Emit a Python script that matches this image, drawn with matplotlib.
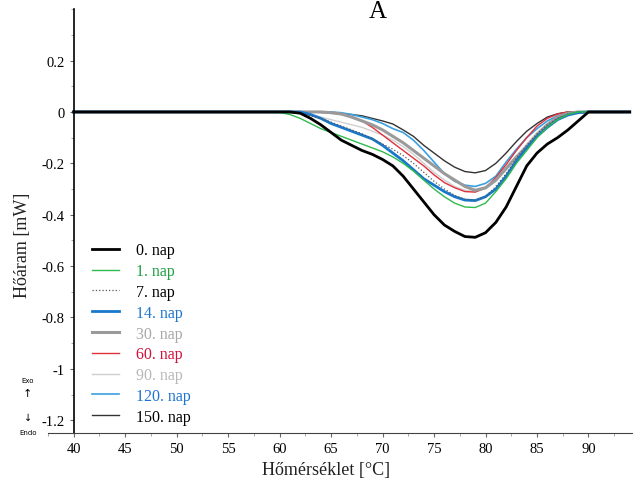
import numpy as np
import matplotlib
matplotlib.use('Agg')
import matplotlib.pyplot as plt
from matplotlib.ticker import MultipleLocator, FormatStrFormatter

plt.rcParams['font.family'] = ['Liberation Serif', 'DejaVu Serif']

# temperature grid (°C)
temp = [40, 59, 60, 61, 62, 63, 64, 65, 66, 67, 68, 69, 70, 71, 72, 73, 74, 75,
        76, 77, 78, 79, 80, 81, 82, 83, 84, 85, 86, 87, 88, 89, 90, 94]

# heat flow (mW) per storage day
nap0 = [0, 0, 0, 0, -0.005, -0.025, -0.05, -0.08, -0.11, -0.13, -0.15, -0.165, -0.185, -0.21,
        -0.25, -0.30, -0.35, -0.40, -0.44, -0.465, -0.485, -0.488, -0.47, -0.43, -0.37, -0.29,
        -0.21, -0.16, -0.125, -0.10, -0.07, -0.035, 0, 0]
nap1 = [0, 0, -0.002, -0.01, -0.025, -0.045, -0.065, -0.08, -0.095, -0.11, -0.125, -0.14,
        -0.155, -0.175, -0.20, -0.23, -0.265, -0.30, -0.33, -0.355, -0.37, -0.372, -0.355,
        -0.31, -0.26, -0.20, -0.15, -0.10, -0.06, -0.03, -0.01, 0, 0, 0]
nap7 = [0, 0, 0, 0, -0.005, -0.015, -0.025, -0.04, -0.055, -0.07, -0.085, -0.105, -0.125,
        -0.145, -0.17, -0.20, -0.235, -0.27, -0.30, -0.325, -0.34, -0.343, -0.33, -0.29,
        -0.24, -0.18, -0.13, -0.085, -0.05, -0.025, -0.008, 0, 0, 0]
nap14 = [0, 0, 0, 0, 0, -0.01, -0.025, -0.045, -0.06, -0.075, -0.09, -0.105, -0.13, -0.16,
         -0.19, -0.225, -0.26, -0.285, -0.31, -0.33, -0.343, -0.345, -0.33, -0.30, -0.25,
         -0.19, -0.14, -0.095, -0.06, -0.03, -0.012, -0.003, 0, 0]
nap30 = [0, 0, 0, 0, 0, 0, 0, -0.003, -0.008, -0.02, -0.035, -0.05, -0.07, -0.095, -0.12,
         -0.15, -0.18, -0.21, -0.24, -0.265, -0.29, -0.305, -0.295, -0.265, -0.22, -0.175,
         -0.135, -0.09, -0.05, -0.02, -0.005, 0, 0, 0]
nap60 = [0, 0, 0, 0, 0, 0, 0, -0.003, -0.01, -0.02, -0.035, -0.06, -0.09, -0.12, -0.15,
         -0.18, -0.21, -0.245, -0.275, -0.295, -0.31, -0.312, -0.295, -0.255, -0.205, -0.15,
         -0.10, -0.055, -0.025, -0.008, 0, 0, 0, 0]
nap90 = [0, 0, 0, 0, -0.005, -0.012, -0.02, -0.03, -0.04, -0.05, -0.06, -0.075, -0.09, -0.11,
         -0.135, -0.165, -0.20, -0.235, -0.265, -0.29, -0.305, -0.31, -0.30, -0.27, -0.225,
         -0.175, -0.125, -0.08, -0.045, -0.02, -0.005, 0, 0, 0]
nap120 = [0, 0, 0, 0, 0, 0, 0, 0, -0.003, -0.01, -0.02, -0.03, -0.045, -0.065, -0.08, -0.11,
          -0.15, -0.195, -0.24, -0.27, -0.285, -0.29, -0.278, -0.25, -0.195, -0.145, -0.10,
          -0.065, -0.035, -0.015, -0.004, 0, 0, 0]
nap150 = [0, 0, 0, 0, 0, 0, -0.002, -0.004, -0.007, -0.01, -0.015, -0.025, -0.035, -0.047,
          -0.07, -0.095, -0.13, -0.16, -0.19, -0.215, -0.232, -0.237, -0.228, -0.20, -0.16,
          -0.115, -0.075, -0.045, -0.02, -0.007, 0, 0, 0, 0]

labels = ['0. nap', '1. nap', '7. nap', '14. nap', '30. nap', '60. nap', '90. nap', '120. nap', '150. nap']
series = [nap0, nap1, nap7, nap14, nap30, nap60, nap90, nap120, nap150]
colors = ['black', '#2fba4c', '#555555', '#1878cc', '#9a9a9a', '#e0303c', '#cfcfcf', '#3aa0e0', '#333333']
widths = [2.0, 1.0, 0.9, 2.0, 2.2, 1.0, 1.0, 1.2, 1.0]
styles = ['-', '-', ':', '-', '-', '-', '-', '-', '-']
text_colors = ['black', '#1ea040', 'black', '#1e74d0', '#a8a8a8', '#d4103c', '#b8b8b8', '#1e74d0', 'black']

fig = plt.figure(figsize=(6.33, 4.85), dpi=100)
ax = fig.add_axes([0.0758, 0.105, 0.9222, 0.874])

# draw in reverse so the first ones sit on top
lines = [None] * len(series)
for i in reversed(range(len(series))):
    lines[i], = ax.plot(temp, series[i], color=colors[i], lw=widths[i], ls=styles[i],
                        label=labels[i])

ax.set_xlim(37.5, 94.2)
ax.set_ylim(-1.25, 0.4)
ax.spines['left'].set_position(('data', 40))
ax.spines['top'].set_visible(False)
ax.spines['right'].set_visible(False)
ax.spines['left'].set_linewidth(1.2)
ax.spines['bottom'].set_color('#444444')

ax.set_xticks(np.arange(40, 91, 5))
ax.set_yticks(np.arange(-1.2, 0.21, 0.2))
ax.xaxis.set_minor_locator(MultipleLocator(2.5))
ax.yaxis.set_minor_locator(MultipleLocator(0.1))
ax.yaxis.set_major_formatter(FormatStrFormatter('%g'))
ax.set_yticklabels(['-1.2', '-1', '-0.8', '-0.6', '-0.4', '-0.2', '0', '0.2'])
ax.tick_params(axis='both', which='major', labelsize=10.5, length=3, color='#666666')
ax.tick_params(axis='both', which='minor', length=2, color='#999999')

fig.text(0.515, 0.03, 'Hőmérséklet [°C]', fontsize=13, ha='center', va='center', color='#222222')
fig.text(0.035, 0.495, 'Hőáram [mW]', fontsize=13, ha='center', va='center', rotation=90, color='#222222')
fig.text(0.597, 0.962, 'A', fontsize=18, ha='center', va='baseline')

fig.text(0.044, 0.215, 'Exo', fontsize=5, ha='center', va='center', family='DejaVu Sans')
fig.text(0.044, 0.188, '↑', fontsize=8, ha='center', va='center', family='DejaVu Sans')
fig.text(0.044, 0.138, '↓', fontsize=7, ha='center', va='center', family='DejaVu Sans')
fig.text(0.044, 0.108, 'Endo', fontsize=5, ha='center', va='center', family='DejaVu Sans')

leg = ax.legend(handles=lines, loc='upper left', bbox_to_anchor=(0.065, 0.465),
                frameon=False, fontsize=11.5, handlelength=1.7, labelspacing=0.3,
                handletextpad=1.05, borderaxespad=0)
for t, c in zip(leg.get_texts(), text_colors):
    t.set_color(c)

fig.savefig('out.png', dpi=100)
